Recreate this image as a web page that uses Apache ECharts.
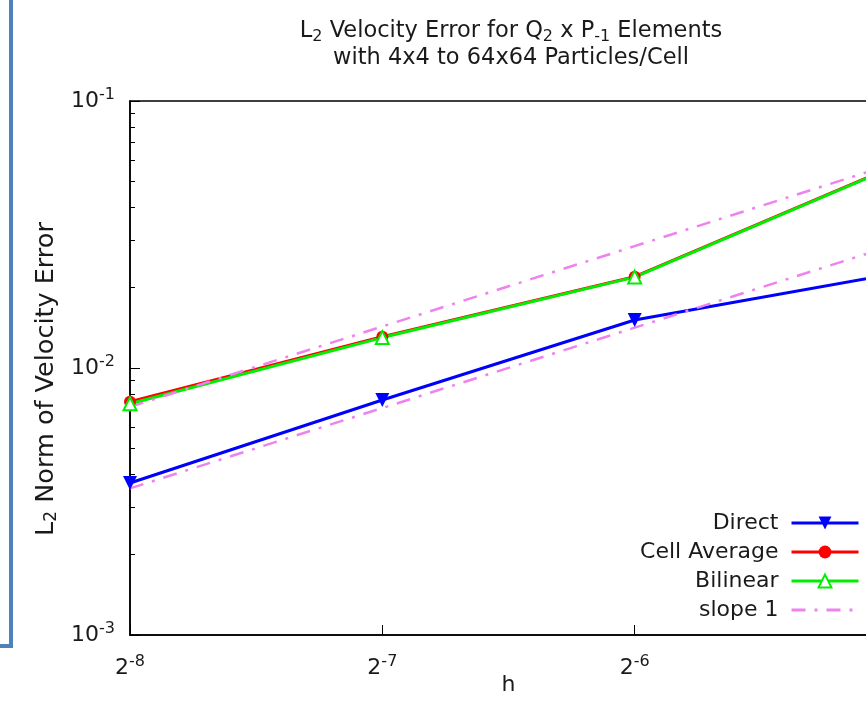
<!DOCTYPE html>
<html>
<head>
<meta charset="utf-8">
<script src="https://cdn.jsdelivr.net/npm/echarts@6/dist/echarts.min.js"></script>
<style>html,body{margin:0;padding:0;background:#fff}#c{width:866px;height:719px}</style>
</head>
<body>
<div id="c"></div>
<script>
// ---- data ----
var hValues = [Math.pow(2,-8), Math.pow(2,-7), Math.pow(2,-6), Math.pow(2,-5)];
var directVals = [0.00371, 0.00759, 0.01513, 0.0223];
var cellAvgVals = [0.00748, 0.01310, 0.02197, 0.0556];
var bilinearVals = [0.00735, 0.01300, 0.02190, 0.0553];
var slopeUpperVals = [0.00715, 0.0143, 0.0286, 0.0572];
var slopeLowerVals = [0.00354, 0.00708, 0.01416, 0.02832];
var yMinorTickVals = [0.002,0.003,0.004,0.005,0.006,0.007,0.008,0.009,
                      0.02,0.03,0.04,0.05,0.06,0.07,0.08,0.09];
var legendNames = ['Direct', 'Cell Average', 'Bilinear', 'slope 1'];

function pairs(xs, ys){ return xs.map(function(x,i){ return [x, ys[i]]; }); }

var FONT = 'DejaVu Sans';
var TXT = '#1a1a1a';
var supRich = {
  b: {fontSize: 22, fontFamily: FONT, color: TXT, lineHeight: 30},
  s: {fontSize: 16, fontFamily: FONT, color: TXT, padding: [0,0,13,0]}
};

var chart = echarts.init(document.getElementById('c'), null, {renderer: 'canvas'});
var option = {
  backgroundColor: '#fff',
  animation: false,
  title: {
    text: '{t|L}{sub|2}{t| Velocity Error for Q}{sub|2}{t| x P}{sub|-1}{t| Elements}\n{t|with 4x4 to 64x64 Particles/Cell}',
    left: 506, top: 13, textAlign: 'center',
    textStyle: {
      fontFamily: FONT, fontSize: 22.5, fontWeight: 'normal', color: TXT,
      rich: {
        t: {fontSize: 22.5, fontFamily: FONT, color: TXT, lineHeight: 27},
        sub: {fontSize: 16, fontFamily: FONT, color: TXT, padding: [10,0,0,0]}
      }
    }
  },
  graphic: [{
    type: 'polyline', silent: true,
    shape: {points: [[11,0],[11,646],[0,646]]},
    style: {stroke: '#4f81bd', lineWidth: 4, fill: null}
  }],
  legend: {
    data: ['Direct', 'Cell Average', 'Bilinear', {name: 'slope 1', itemStyle: {opacity: 0}}],
    orient: 'vertical', align: 'right',
    right: 6, top: 512, padding: 0,
    itemWidth: 67, itemHeight: 16, itemGap: 7,
    lineStyle: {width: 3},
    textStyle: {fontFamily: FONT, fontSize: 22, color: TXT, lineHeight: 22, padding: [0, 8, 0, 0]}
  },
  grid: {
    left: 130, top: 101, width: 757, height: 534,
    show: true, borderColor: '#000', borderWidth: 1.5,
    containLabel: false, outerBoundsMode: 'none'
  },
  xAxis: {
    type: 'log', logBase: 2,
    min: Math.pow(2,-8), max: Math.pow(2,-5),
    name: 'h', nameLocation: 'middle', nameGap: 39, nameMoveOverlap: false,
    nameTextStyle: {fontFamily: FONT, fontSize: 22, color: TXT},
    axisLine: {show: true, lineStyle: {color: '#000', width: 1.5}},
    axisTick: {show: true, inside: true, length: 10, lineStyle: {color: '#000', width: 1}},
    splitLine: {show: false},
    axisLabel: {
      margin: 18, showMinLabel: true, showMaxLabel: true,
      formatter: function(v){ return '{b|2}{s|' + Math.round(Math.log(v)/Math.LN2) + '}'; },
      rich: supRich
    }
  },
  yAxis: [{
    type: 'log', logBase: 10, min: 0.001, max: 0.1,
    name: '{n|L}{sb|2}{n| Norm of Velocity Error}',
    nameLocation: 'middle', nameGap: 66, nameRotate: 90,
    nameTextStyle: {
      fontFamily: FONT, fontSize: 25.5, color: TXT, padding: [0, 22, 0, 0],
      rich: {
        n: {fontSize: 25.5, fontFamily: FONT, color: TXT, lineHeight: 30},
        sb: {fontSize: 17, fontFamily: FONT, color: TXT, padding: [11,0,0,0]}
      }
    },
    axisLine: {show: true, lineStyle: {color: '#000', width: 1.5}},
    axisTick: {show: true, inside: true, length: 10, lineStyle: {color: '#000', width: 1}},
    splitLine: {show: false},
    axisLabel: {
      margin: 15, showMinLabel: true, showMaxLabel: true,
      formatter: function(v){ return '{b|10}{s|' + Math.round(Math.log(v)/Math.LN10) + '}'; },
      rich: supRich
    }
  }, {
    type: 'log', logBase: 10, min: 0.001, max: 0.1, position: 'left',
    axisLine: {show: false},
    axisTick: {show: true, inside: true, length: 5, customValues: yMinorTickVals, lineStyle: {color: '#000', width: 1}},
    axisLabel: {show: false},
    splitLine: {show: false}
  }],
  series: [{
    name: 'Direct', type: 'line', data: pairs(hValues, directVals),
    symbol: 'triangle', symbolRotate: 180, symbolSize: 14,
    lineStyle: {color: '#0000ff', width: 3}, itemStyle: {color: '#0000ff'}
  }, {
    name: 'Cell Average', type: 'line', data: pairs(hValues, cellAvgVals),
    symbol: 'circle', symbolSize: 12,
    lineStyle: {color: '#ff0000', width: 3}, itemStyle: {color: '#ff0000'}
  }, {
    name: 'Bilinear', type: 'line', data: pairs(hValues, bilinearVals),
    symbol: 'emptyTriangle', symbolSize: 13,
    lineStyle: {color: '#00ee00', width: 3}, itemStyle: {color: '#00ee00', borderWidth: 3}
  }, {
    name: 'slope 1', type: 'line', data: pairs(hValues, slopeUpperVals),
    symbol: 'none', showSymbol: false,
    lineStyle: {color: '#ee82ee', width: 2.5, type: [14, 9, 3, 9]}, itemStyle: {color: '#ee82ee'}
  }, {
    name: 'slope 1', type: 'line', data: pairs(hValues, slopeLowerVals),
    symbol: 'none', showSymbol: false,
    lineStyle: {color: '#ee82ee', width: 2.5, type: [14, 9, 3, 9]}, itemStyle: {color: '#ee82ee'}
  }]
};
chart.setOption(option);
</script>
</body>
</html>
